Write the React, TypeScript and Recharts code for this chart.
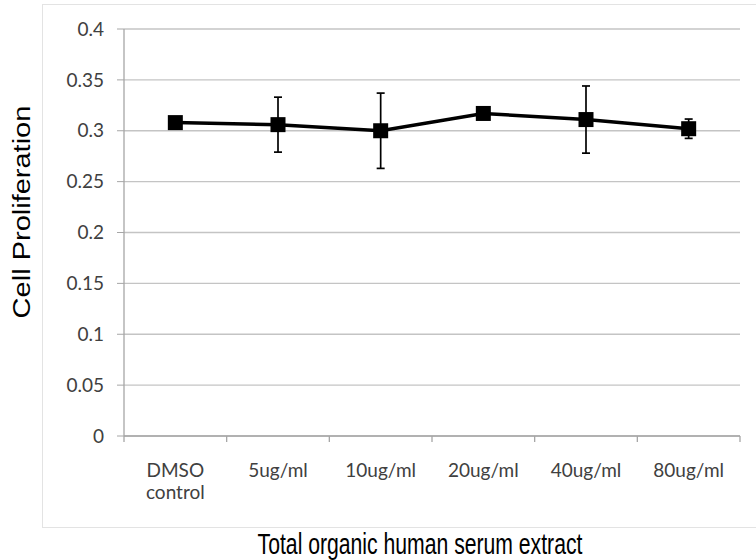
import React from 'react';
import { ComposedChart, Line, XAxis, YAxis, CartesianGrid, ErrorBar } from 'recharts';

const categories = ['DMSO control', '5ug/ml', '10ug/ml', '20ug/ml', '40ug/ml', '80ug/ml'];
const proliferation = [0.308, 0.306, 0.300, 0.317, 0.311, 0.302];
const errors = [0.003, 0.027, 0.037, 0.003, 0.033, 0.0095];
const yTicks = [0, 0.05, 0.1, 0.15, 0.2, 0.25, 0.3, 0.35, 0.4];

const data = categories.map((name, i) => ({
  name,
  value: proliferation[i],
  err: errors[i],
}));

const tickFont = 'Lato, "Open Sans", sans-serif';
const titleFont = '"Liberation Sans", Arial, sans-serif';
const axisGray = '#a6a6a6';

const SquareDot = (props: any) => {
  const { cx, cy } = props;
  if (cx == null || cy == null) return null;
  return <rect x={cx - 7.5} y={cy - 7.5} width={15} height={15} fill="#000" />;
};

// category label, plus the tick marks that sit on the band edges
const CategoryTick = (props: any) => {
  const { x, y, payload, index, visibleTicksCount } = props;
  const half = payload.offset ?? 0;
  const words = String(payload.value).split(' ');
  const isLast = index === (visibleTicksCount ?? categories.length) - 1;
  return (
    <g>
      <line x1={x - half} x2={x - half} y1={y} y2={y + 6} stroke={axisGray} strokeWidth={1.3} />
      {isLast && <line x1={x + half} x2={x + half} y1={y} y2={y + 6} stroke={axisGray} strokeWidth={1.3} />}
      <text x={x} y={y + 41} textAnchor="middle" fontFamily={tickFont} fontSize={19} fill="#404040">
        {words.map((w, i) => (
          <tspan key={i} x={x} dy={i === 0 ? 0 : 22}>{w}</tspan>
        ))}
      </text>
    </g>
  );
};

export default function App() {
  return (
    <div style={{ position: 'absolute', left: 0, top: 0, width: 756, height: 560, background: '#fff', overflow: 'hidden' }}>
      <div
        style={{
          position: 'absolute', left: 42, top: 4, width: 730, height: 524,
          border: '1px solid #e3e3e3', boxSizing: 'border-box',
        }}
      />
      <div style={{ position: 'absolute', left: 0, top: 0 }}>
        <ComposedChart width={756} height={560} data={data} margin={{ top: 29, right: 16, bottom: 0, left: 0 }}>
          <CartesianGrid horizontal vertical={false} stroke="#c4c4c4" strokeWidth={1.3} />
          <XAxis
            dataKey="name"
            scale="band"
            height={124}
            axisLine={{ stroke: axisGray, strokeWidth: 1.3 }}
            tickLine={false}
            tickSize={0}
            tickMargin={0}
            interval={0}
            tick={<CategoryTick />}
          />
          <YAxis
            width={124}
            domain={[0, 0.4]}
            ticks={yTicks}
            interval={0}
            tickFormatter={(v: number) => String(Math.round(v * 100) / 100)}
            axisLine={{ stroke: axisGray, strokeWidth: 1.3 }}
            tickLine={{ stroke: axisGray }}
            tickSize={7}
            tickMargin={13}
            tick={{ fontFamily: tickFont, fontSize: 19, fill: '#404040' }}
          />
          <Line
            dataKey="value"
            stroke="#000"
            strokeWidth={3.5}
            dot={<SquareDot />}
            activeDot={false}
            isAnimationActive={false}
          >
            <ErrorBar dataKey="err" width={4} stroke="#000" strokeWidth={1.7} direction="y" />
          </Line>
        </ComposedChart>
      </div>
      <div
        style={{
          position: 'absolute', left: 22, top: 212,
          transform: 'translate(-50%, -50%) rotate(-90deg) scale(1, 0.85)',
          fontFamily: titleFont, fontSize: 29, lineHeight: '29px', color: '#000', whiteSpace: 'nowrap',
        }}
      >
        Cell Proliferation
      </div>
      <div
        style={{
          position: 'absolute', left: 420, top: 544,
          transform: 'translate(-50%, -50%) scale(0.73, 1)',
          fontFamily: titleFont, fontSize: 29, lineHeight: '29px', color: '#000', whiteSpace: 'nowrap',
        }}
      >
        Total organic human serum extract
      </div>
    </div>
  );
}
